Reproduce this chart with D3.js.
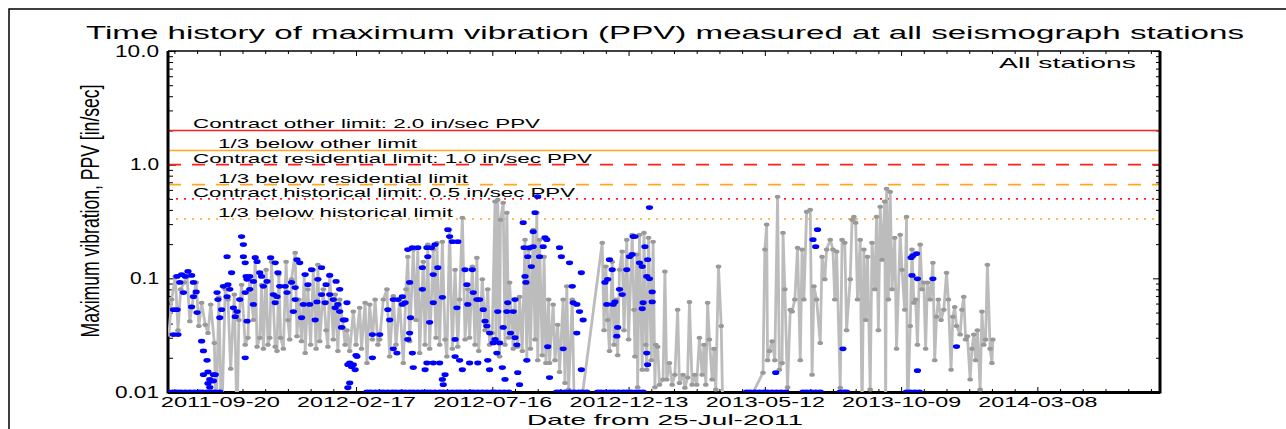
<!DOCTYPE html>
<html>
<head>
<meta charset="utf-8">
<script src="https://cdn.jsdelivr.net/npm/d3@7"></script>
<style>
  body { margin: 0; background: #fff; }
  text { font-family: "Liberation Sans", Arial, sans-serif; fill: #000; }
</style>
</head>
<body>
<div id="chart"></div>
<script>
// ---- data (days counted from 25-Jul-2011, PPV in in/sec) ----
const startDate = "2011-07-25"
const xTickLabels = ["2011-09-20", "2012-02-17", "2012-07-16", "2012-12-13", "2013-05-12", "2013-10-09", "2014-03-08"]
const yTickValues = [10, 1, 0.1, 0.01]
const yTickLabels = ["10.0", "1.0", "0.1", "0.01"]

const limitValues = [2.0, 1.333, 1.0, 0.667, 0.5, 0.333]
const limitLabels = [
    "Contract other limit: 2.0 in/sec PPV",
    "1/3 below other limit",
    "Contract residential limit: 1.0 in/sec PPV",
    "1/3 below residential limit",
    "Contract historical limit: 0.5 in/sec PPV",
    "1/3 below historical limit"
]

// grey series: [day, ppv], values under 0.01 fall off the axis
const grayReadings = [
    [1,0.032],[4,0.065],[8,0.104],[11,0.035],[14,0.080],[18,0.092],[21,0.104],[24,0.042],[28,0.069],[31,0.092],[34,0.038],[37,0.061],[41,0.039],[44,0.033],[47,0.059],[51,0.027],
    [53,0.006],[56,0.068],[59,0.005],[63,0.080],[66,0.065],[69,0.016],[73,0.072],[76,0.005],[78,0.043],
    [81,0.088],[85,0.026],[88,0.030],[90,0.104],[94,0.043],[96,0.155],[98,0.025],[101,0.030],[103,0.088],[105,0.024],[108,0.119],[110,0.026],[112,0.030],[114,0.140],[118,0.025],[120,0.023],[122,0.108],[124,0.030],[127,0.024],[130,0.140],[132,0.043],[134,0.029],[136,0.098],[140,0.168],[142,0.031],[144,0.065],
    [147,0.028],[150,0.108],[151,0.022],[154,0.080],[157,0.026],[160,0.119],[163,0.024],[165,0.132],[167,0.028],[171,0.080],[174,0.035],[176,0.025],[178,0.108],[182,0.029],[184,0.072],[187,0.023],[189,0.065],[193,0.037],[195,0.026],
    [197,0.035],[200,0.023],[204,0.051],[207,0.026],[211,0.055],[213,0.024],[217,0.061],[219,0.018],[222,0.059],[225,0.029],
    [228,0.065],[231,0.026],[233,0.029],[237,0.065],[241,0.080],[244,0.0205],[248,0.070],[251,0.026],[255,0.065],[259,0.018],[262,0.080],[264,0.155],[266,0.028],[270,0.179],[273,0.043],[275,0.186],[277,0.022],
    [281,0.140],[283,0.026],[286,0.198],[288,0.024],[292,0.179],[295,0.030],[296,0.206],[299,0.026],[302,0.210],[305,0.029],[307,0.0205],[310,0.268],[313,0.024],[316,0.119],[319,0.025],[321,0.065],[324,0.342],[327,0.029],[330,0.080],[332,0.030],
    [335,0.127],[338,0.026],[340,0.152],[342,0.023],[346,0.098],[349,0.035],[352,0.080],[354,0.026],[357,0.033],[360,0.473],[361,0.029],[363,0.492],[365,0.0205],[366,0.328],[369,0.463],[371,0.026],[373,0.378],[375,0.030],[376,0.092],[380,0.024],[382,0.065],[385,0.025],[387,0.069],[390,0.023],[393,0.219],[395,0.019],[397,0.179],[399,0.024],[402,0.268],[404,0.029],[406,0.378],[407,0.019],[409,0.219],
    [412,0.021],[414,0.155],[416,0.018],[419,0.065],[420,0.018],[424,0.059],[426,0.019],[429,0.039],[431,0.015],[435,0.065],[437,0.012],[439,0.085],[441,0.0105],[445,0.065],[448,0.003],
    [478,0.206],[480,0.035],[482,0.127],[484,0.043],[486,0.023],[489,0.140],[491,0.026],[493,0.065],[495,0.021],[497,0.119],[500,0.172],[502,0.035],[505,0.219],[507,0.029],[511,0.242],[513,0.053],[514,0.0205],[516,0.162],[517,0.011],[519,0.242],[522,0.0157],[524,0.252],[526,0.026],[527,0.0157],[529,0.228],[532,0.019],[534,0.210],[536,0.011],[537,0.026],
    [539,0.025],[541,0.0116],[545,0.0129],[547,0.115],[549,0.0129],[552,0.018],[555,0.0116],[558,0.0142],[561,0.053],[563,0.012],[567,0.0142],[569,0.0109],[572,0.0134],[574,0.062],[577,0.0116],[580,0.0142],[582,0.0116],[585,0.030],[588,0.0142],[590,0.026],[592,0.0116],[594,0.061],[596,0.029],[599,0.0129],[601,0.024],[603,0.0105],[606,0.127],[609,0.038],[611,0.005],[618,0.0038],
    [655,0.0148],[657,0.179],[659,0.297],[660,0.019],[662,0.023],[665,0.028],[668,0.019],[671,0.523],[673,0.0157],[676,0.018],[677,0.252],[679,0.080],[682,0.011],[685,0.053],[687,0.051],[690,0.065],[693,0.186],[696,0.019],[698,0.179],[700,0.065],[703,0.386],[707,0.402],[709,0.0142],[711,0.085],[714,0.065],[718,0.027],[720,0.155],[723,0.098],[725,0.179],[729,0.219],[732,0.179],[734,0.065],[736,0.172],[740,0.0109],[742,0.219],
    [745,0.206],[747,0.035],[751,0.098],[753,0.328],[755,0.349],[757,0.309],[759,0.065],[762,0.219],[764,0.006],[766,0.179],[768,0.043],[770,0.155],[773,0.0105],[775,0.206],[778,0.080],[780,0.349],[782,0.035],[784,0.427],[786,0.146],[789,0.473],[790,0.006],[791,0.615],[793,0.065],[795,0.579],[797,0.080],[800,0.228],[802,0.024],[806,0.242],
    [808,0.119],[811,0.053],[813,0.349],[814,0.006],[817,0.038],[819,0.179],[821,0.061],[823,0.065],[825,0.026],[828,0.198],[830,0.080],[832,0.092],[834,0.024],[836,0.092],[839,0.065],[842,0.137],[844,0.019],[846,0.046],[848,0.065],[851,0.043],[854,0.053],[857,0.112],[859,0.065],[862,0.0157],[864,0.046],[866,0.056],[868,0.038],[872,0.032],[874,0.053],[876,0.069],[878,0.029],[880,0.031],[883,0.0129],[885,0.024],[887,0.032],[889,0.019],[891,0.035],[894,0.0105],[896,0.051],[898,0.026],[900,0.029],[902,0.132],[905,0.024],[907,0.018],[908,0.029]
]

// blue points: [day, ppv]
const blueReadings = [
    [6,0.053],[6,0.032],[10,0.104],[10,0.053],[11,0.032],[13,0.092],[15,0.108],[17,0.075],[19,0.104],[22,0.115],[26,0.106],[26,0.056],[28,0.092],[28,0.069],[31,0.076],[32,0.050],
    [37,0.028],[39,0.023],[39,0.0142],[43,0.019],[44,0.015],[44,0.0119],[46,0.0129],[46,0.011],[50,0.0142],[50,0.0125],[52,0.0142],
    [54,0.075],[55,0.065],[57,0.045],[59,0.053],[61,0.085],[65,0.069],[65,0.155],[66,0.088],[68,0.080],[70,0.112],[72,0.055],[74,0.046],[76,0.051],[79,0.065],
    [81,0.233],[83,0.198],[83,0.155],[85,0.137],[85,0.075],[85,0.020],[86,0.104],[87,0.098],[87,0.042],[90,0.104],[90,0.080],[94,0.094],[94,0.059],[96,0.152],[98,0.140],[101,0.112],[103,0.104],[105,0.085],[109,0.094],[113,0.152],[116,0.072],[118,0.137],[118,0.061],[120,0.069],[121,0.112],[123,0.085],[129,0.085],[131,0.075],[136,0.092],[138,0.051],[140,0.065],[140,0.083],[142,0.146],[145,0.137],
    [147,0.045],[149,0.059],[151,0.108],[154,0.088],[156,0.059],[158,0.119],[162,0.043],[164,0.062],[165,0.098],[169,0.124],[169,0.072],[173,0.061],[174,0.088],[178,0.106],[178,0.072],[182,0.065],[184,0.055],[185,0.094],[187,0.059],[189,0.080],[189,0.051],[191,0.037],[193,0.043],[195,0.043],[197,0.061],
    [198,0.0174],[198,0.0109],[200,0.018],[200,0.012],[202,0.0167],[204,0.0174],[206,0.0157],[207,0.021],[208,0.0205],
    [225,0.020],[225,0.032],[233,0.032],[242,0.053],[244,0.043],[248,0.024],[248,0.065],[252,0.022],[253,0.065],[258,0.059],[258,0.069],[261,0.061],[264,0.029],[264,0.179],[266,0.092],[266,0.033],[267,0.045],[269,0.186],[269,0.022],[270,0.0164],[275,0.186],[280,0.124],[280,0.080],[283,0.0157],[285,0.186],[285,0.018],[286,0.155],[288,0.041],[290,0.186],[292,0.108],[292,0.061],[292,0.018],[294,0.198],[297,0.124],[299,0.018],[302,0.068],[302,0.0129],[303,0.0116],[305,0.0142],
    [308,0.268],[310,0.233],[313,0.210],[316,0.029],[316,0.0205],[318,0.055],[319,0.210],[321,0.019],[324,0.0157],[327,0.119],[329,0.088],[330,0.059],[332,0.018],[335,0.119],[336,0.075],[340,0.065],[341,0.018],[343,0.065],[347,0.053],[349,0.042],[351,0.038],[352,0.019],[354,0.033],[354,0.0157],[358,0.027],[360,0.029],[362,0.022],[363,0.051],[365,0.027],[368,0.0164],[369,0.037],[371,0.0129],[373,0.051],[374,0.061],[377,0.033],[380,0.051],[382,0.030],[382,0.065],[384,0.026],[385,0.0148],[387,0.0116],
    [391,0.309],[392,0.186],[393,0.104],[394,0.092],[395,0.019],[396,0.155],[398,0.186],[400,0.127],[402,0.257],[402,0.190],[404,0.378],[407,0.523],[409,0.155],[413,0.190],[415,0.228],[417,0.219],[418,0.025],[420,0.0134],[431,0.186],[433,0.155],[435,0.024],[442,0.137],[445,0.085],[446,0.061],[450,0.059],[450,0.033],[453,0.051],[455,0.112],[455,0.0157],[457,0.043],
    [481,0.092],[483,0.059],[484,0.098],[486,0.146],[489,0.119],[490,0.059],[492,0.062],[494,0.031],[495,0.037],[497,0.080],[500,0.072],[505,0.119],[508,0.155],[511,0.162],[512,0.233],[514,0.233],[519,0.137],[522,0.127],[522,0.054],[523,0.061],[525,0.190],[527,0.104],[527,0.022],[528,0.146],[528,0.0174],[530,0.419],[530,0.099],[533,0.076],[533,0.062],
    [669,0.0148],[710,0.219],[713,0.190],[715,0.268],[743,0.024],[818,0.152],[819,0.106],[820,0.158],[824,0.165],[825,0.099],[825,0.0154],[842,0.099],[868,0.0251]
]

// blue points sitting on the 0.01 floor of the axis
const blueFloorDays = [
    0,5,10,14,19,24,29,34,38,43,48,52,57,
    219,223,228,233,237,242,247,251,256,261,266,270,275,280,285,289,294,299,303,308,313,318,322,327,332,336,341,346,351,356,360,365,370,375,
    428,432,437,442,447,452,456,461,
    473,477,482,487,491,496,501,505,510,515,519,523,
    637,641,646,651,656,660,665,670,675,680,
    699,703,708,713,718,
    740,744,747,
    813,817,822,827
]

// ---- layout ----
const W = 1286, H = 429
const plot = {left: 168, right: 1160, top: 51, bottom: 392}
const dayMax = 1092

const svg = d3.select("#chart").append("svg")
              .attr("width", W)
              .attr("height", H)

// outer frame (cropped page border)
svg.append("rect")
   .attr("x", 9).attr("y", 9)
   .attr("width", W).attr("height", H)
   .attr("fill", "none")
   .attr("stroke", "#000")
   .attr("stroke-width", 1.5)

const parse = d3.utcParse("%Y-%m-%d")
const t0 = parse(startDate)
const dayOf = s => (parse(s) - t0) / 864e5

const x = d3.scaleLinear().domain([0, dayMax]).range([plot.left, plot.right])
const y = d3.scaleLog().domain([0.01, 10]).range([plot.bottom, plot.top])

// stretch text to a measured width (the picture is wide)
function fit(sel, w) {
    sel.attr("textLength", w).attr("lengthAdjust", "spacingAndGlyphs")
}

// title
svg.append("text")
   .attr("x", 86).attr("y", 39)
   .attr("font-size", 17.5)
   .text("Time history of maximum vibration (PPV) measured at all seismograph stations")
   .call(fit, 1158)

// clip for everything inside the plot
svg.append("clipPath").attr("id", "plotClip")
   .append("rect")
   .attr("x", plot.left).attr("y", plot.top)
   .attr("width", plot.right - plot.left).attr("height", plot.bottom - plot.top)

// axes ticks
const majorDays = xTickLabels.map(dayOf)
const minorDays = d3.range(7, dayMax, 25).filter(d => !majorDays.some(m => Math.abs(m - d) < 1))
const yMinor = []
for (const k of [-2, -1, 0]) for (let m = 2; m <= 9; m++) yMinor.push(m * Math.pow(10, k))

function tickOnly(g) {
    g.select(".domain").remove()
    g.selectAll("line").attr("stroke", "#000").attr("stroke-width", 1)
}

svg.append("g").attr("transform", `translate(0,${plot.bottom})`)
   .call(d3.axisBottom(x).tickValues(minorDays).tickSize(-3).tickFormat(""))
   .call(tickOnly)
svg.append("g").attr("transform", `translate(0,${plot.top})`)
   .call(d3.axisTop(x).tickValues(minorDays).tickSize(-3).tickFormat(""))
   .call(tickOnly)
svg.append("g").attr("transform", `translate(0,${plot.top})`)
   .call(d3.axisTop(x).tickValues(majorDays).tickSize(-5).tickFormat(""))
   .call(tickOnly)
const xAxis = svg.append("g").attr("transform", `translate(0,${plot.bottom})`)
   .call(d3.axisBottom(x).tickValues(majorDays).tickSize(-5).tickPadding(5)
           .tickFormat((d, i) => xTickLabels[i]))
   .call(tickOnly)
xAxis.selectAll("text")
     .attr("font-size", 14)
     .attr("font-family", "Liberation Sans, Arial, sans-serif")
     .attr("fill", "#000")
     .call(fit, 119)

svg.append("g").attr("transform", `translate(${plot.left},0)`)
   .call(d3.axisLeft(y).tickValues(yMinor).tickSize(-5).tickFormat(""))
   .call(tickOnly)
svg.append("g").attr("transform", `translate(${plot.right},0)`)
   .call(d3.axisRight(y).tickValues(yMinor).tickSize(-4).tickFormat(""))
   .call(tickOnly)
svg.append("g").attr("transform", `translate(${plot.right},0)`)
   .call(d3.axisRight(y).tickValues(yTickValues).tickSize(-7).tickFormat(""))
   .call(tickOnly)
const yAxis = svg.append("g").attr("transform", `translate(${plot.left},0)`)
   .call(d3.axisLeft(y).tickValues(yTickValues).tickSize(-8).tickPadding(9)
           .tickFormat((d, i) => yTickLabels[i]))
   .call(tickOnly)
yAxis.selectAll("text")
     .attr("font-size", 16)
     .attr("font-family", "Liberation Sans, Arial, sans-serif")
     .attr("fill", "#000")
     .each(function (d, i) { d3.select(this).call(fit, yTickLabels[i].length > 3 ? 44 : 29) })

// axis titles
svg.append("text")
   .attr("x", 527).attr("y", 425)
   .attr("font-size", 14.5)
   .text("Date from 25-Jul-2011")
   .call(fit, 276)

svg.append("text")
   .attr("transform", "translate(99,211) rotate(-90) scale(1,1.75)")
   .attr("text-anchor", "middle")
   .attr("font-size", 15)
   .text("Maximum vibration, PPV [in/sec]")
   .call(fit, 253)

// limit lines
const limitStyle = [
    {color: "#ff1f1f", dash: null},
    {color: "#ffa623", dash: null},
    {color: "#ff1f1f", dash: "13,11"},
    {color: "#ffa623", dash: "13,11"},
    {color: "#ff1f1f", dash: "2,6"},
    {color: "#ffa623", dash: "2,6"}
]
const labelIndent = [25, 50, 25, 50, 25, 50]
const labelWidth = [347, 199, 399, 250, 382, 235]

const limits = svg.append("g").attr("clip-path", "url(#plotClip)")
limits.selectAll("line")
      .data(limitValues)
      .join("line")
      .attr("x1", plot.left).attr("x2", plot.right)
      .attr("y1", d => y(d)).attr("y2", d => y(d))
      .attr("stroke", (d, i) => limitStyle[i].color)
      .attr("stroke-width", 1.6)
      .attr("stroke-dasharray", (d, i) => limitStyle[i].dash)

svg.append("g").selectAll("text")
   .data(limitValues)
   .join("text")
   .attr("x", (d, i) => plot.left + labelIndent[i])
   .attr("y", d => y(d) - 2)
   .attr("font-size", 13)
   .text((d, i) => limitLabels[i])
   .each(function (d, i) { d3.select(this).call(fit, labelWidth[i]) })

svg.append("text")
   .attr("x", 999).attr("y", 68)
   .attr("font-size", 15)
   .text("All stations")
   .call(fit, 137)

// frame of the plot
svg.append("line").attr("x1", plot.left).attr("x2", plot.right).attr("y1", plot.top).attr("y2", plot.top)
   .attr("stroke", "#000").attr("stroke-width", 1.5)
svg.append("line").attr("x1", plot.left).attr("x2", plot.left).attr("y1", plot.top).attr("y2", plot.bottom + 1.5)
   .attr("stroke", "#000").attr("stroke-width", 3)
svg.append("line").attr("x1", plot.right).attr("x2", plot.right).attr("y1", plot.top).attr("y2", plot.bottom + 1.5)
   .attr("stroke", "#000").attr("stroke-width", 3)
svg.append("line").attr("x1", plot.left).attr("x2", plot.right).attr("y1", plot.bottom + 0.5).attr("y2", plot.bottom + 0.5)
   .attr("stroke", "#000").attr("stroke-width", 3)

// data
const dataLayer = svg.append("g").attr("clip-path", "url(#plotClip)")

const line = d3.line()
               .x(d => x(d[0]))
               .y(d => y(d[1]))
dataLayer.append("path")
         .attr("d", line(grayReadings))
         .attr("fill", "none")
         .attr("stroke", "#bcbcbc")
         .attr("stroke-width", 2.8)
         .attr("stroke-linejoin", "round")

dataLayer.selectAll(".gdot")
         .data(grayReadings)
         .join("ellipse")
         .attr("class", "gdot")
         .attr("cx", d => x(d[0]))
         .attr("cy", d => y(d[1]))
         .attr("rx", 2.8).attr("ry", 2)
         .attr("fill", "#999999")

dataLayer.selectAll(".bdot")
         .data(blueReadings)
         .join("ellipse")
         .attr("class", "bdot")
         .attr("cx", d => x(d[0]))
         .attr("cy", d => y(d[1]))
         .attr("rx", 3.6).attr("ry", 2.4)
         .attr("fill", "#0000ff")

dataLayer.selectAll(".fdot")
         .data(blueFloorDays)
         .join("ellipse")
         .attr("class", "fdot")
         .attr("cx", d => x(d))
         .attr("cy", y(0.01))
         .attr("rx", 3.6).attr("ry", 2.4)
         .attr("fill", "#0000ff")
</script>
</body>
</html>
